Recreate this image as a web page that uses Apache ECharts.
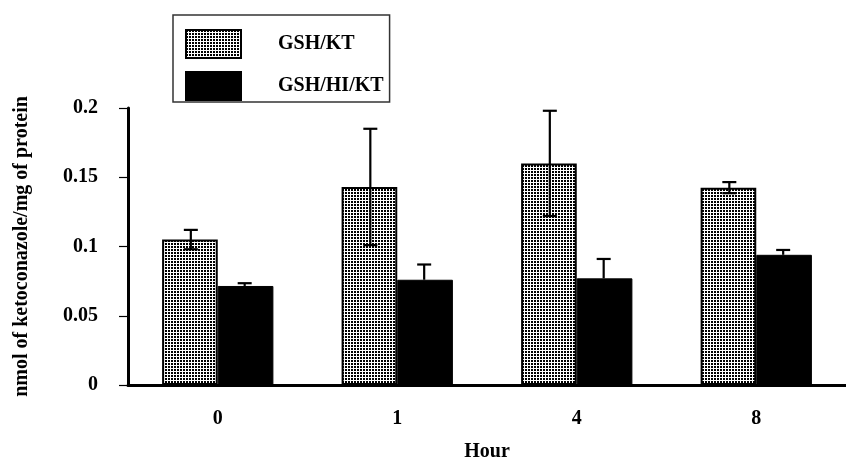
<!DOCTYPE html>
<html>
<head>
<meta charset="utf-8">
<script src="https://cdn.jsdelivr.net/npm/echarts@6/dist/echarts.min.js"></script>
<style>
  html, body { margin: 0; padding: 0; background: #fff; }
  #chart { width: 846px; height: 467px; }
</style>
</head>
<body>
<div id="chart"></div>
<script>
// ---- data ----
const hours = ['0', '1', '4', '8'];
const gshKt = [0.105, 0.143, 0.160, 0.1425];
const gshKtErr = [0.007, 0.042, 0.038, 0.004];
const gshHiKt = [0.0715, 0.076, 0.077, 0.094];
const gshHiKtErr = [0.002, 0.011, 0.014, 0.0035];
const yTicks = [0, 0.05, 0.1, 0.15, 0.2];

// dotted fill pattern
const tile = document.createElement('canvas');
tile.width = 3; tile.height = 3;
const tctx = tile.getContext('2d');
tctx.fillStyle = '#fff';
tctx.fillRect(0, 0, 3, 3);
tctx.fillStyle = '#000';
tctx.fillRect(0, 0, 2, 2);
const dotPattern = { image: tile, repeat: 'repeat' };

const FONT = '"Liberation Serif", "DejaVu Serif", serif';

function errRender(values, errs, side, both) {
  return function (params, api) {
    const i = api.value(0);
    const v = values[i];
    const e = errs[i];
    const bw = api.size([1, 0])[0];
    const off = side * bw * 0.15;
    const top = api.coord([i, v + e]);
    const mid = api.coord([i, v]);
    const low = api.coord([i, v - e]);
    const x = top[0] + off;
    const cap = 7;
    const style = { stroke: '#000', lineWidth: 2.2 };
    const children = [
      { type: 'line', shape: { x1: x, y1: top[1], x2: x, y2: both ? low[1] : mid[1] }, style: style },
      { type: 'line', shape: { x1: x - cap, y1: top[1], x2: x + cap, y2: top[1] }, style: style }
    ];
    if (both) {
      children.push({ type: 'line', shape: { x1: x - cap, y1: low[1], x2: x + cap, y2: low[1] }, style: style });
    }
    return { type: 'group', children: children };
  };
}

const chart = echarts.init(document.getElementById('chart'), null, { renderer: 'canvas' });
chart.setOption({
  animation: false,
  backgroundColor: '#fff',
  textStyle: { fontFamily: FONT },
  legend: {
    orient: 'vertical',
    left: 173,
    top: 15,
    padding: [14, 6, 1, 12],
    itemWidth: 55,
    itemHeight: 28,
    itemGap: 12,
    icon: 'rect',
    borderColor: '#333',
    borderWidth: 1.5,
    data: ['GSH/KT', 'GSH/HI/KT'],
    textStyle: { fontFamily: FONT, fontWeight: 'bold', fontSize: 20, color: '#000', padding: [0, 0, 6, 32] }
  },
  grid: { left: 128, right: -9, top: 108, bottom: 74 },
  xAxis: {
    type: 'category',
    data: hours,
    name: 'Hour',
    nameLocation: 'middle',
    nameGap: 57,
    nameTextStyle: { fontFamily: FONT, fontWeight: 'bold', fontSize: 20, color: '#000' },
    axisLine: { lineStyle: { color: '#000', width: 3 } },
    axisTick: { length: 8, lineStyle: { color: '#000', width: 1.5 } },
    axisLabel: { margin: 24, fontFamily: FONT, fontWeight: 'bold', fontSize: 20, color: '#000' }
  },
  yAxis: {
    type: 'value',
    min: yTicks[0],
    max: yTicks[yTicks.length - 1],
    interval: 0.05,
    name: 'nmol of ketoconazole/mg of protein',
    nameLocation: 'middle',
    nameGap: 96,
    nameTextStyle: { fontFamily: FONT, fontWeight: 'bold', fontSize: 20, color: '#000' },
    axisLine: { show: true, lineStyle: { color: '#000', width: 3 } },
    axisTick: { show: true, length: 9, lineStyle: { color: '#000', width: 1.2 } },
    splitLine: { show: false },
    axisLabel: { margin: 30, fontFamily: FONT, fontWeight: 'bold', fontSize: 20, color: '#000',
      formatter: function (v) { return String(+v.toFixed(2)); } }
  },
  series: [
    {
      name: 'GSH/KT',
      type: 'bar',
      data: gshKt,
      barGap: '0%',
      barCategoryGap: '38%',
      itemStyle: { color: dotPattern, borderColor: '#000', borderWidth: 2 }
    },
    {
      name: 'GSH/HI/KT',
      type: 'bar',
      data: gshHiKt,
      barGap: '0%',
      barCategoryGap: '38%',
      itemStyle: { color: '#000', borderColor: '#000', borderWidth: 1 }
    },
    {
      type: 'custom',
      name: 'errA',
      data: hours.map((h, i) => [i, gshKt[i] + gshKtErr[i]]),
      renderItem: errRender(gshKt, gshKtErr, -1, true),
      z: 5
    },
    {
      type: 'custom',
      name: 'errB',
      data: hours.map((h, i) => [i, gshHiKt[i] + gshHiKtErr[i]]),
      renderItem: errRender(gshHiKt, gshHiKtErr, 1, false),
      z: 5
    }
  ]
});
</script>
</body>
</html>
